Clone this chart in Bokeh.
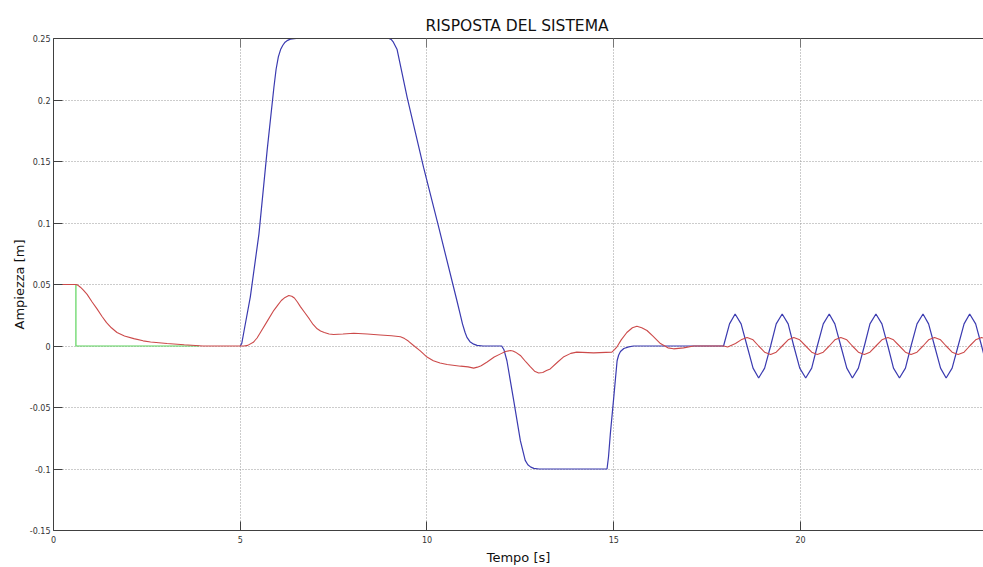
from bokeh.plotting import figure
from bokeh.models import Range1d, LinearAxis, FixedTicker, CustomJSTickFormatter
from bokeh.embed import file_html
from bokeh.resources import INLINE

# System output (blue): time [s] and amplitude [m]
out_t = [5.0, 5.04, 5.1, 5.27, 5.5, 5.72, 5.9, 5.96, 6.02, 6.08, 6.14, 6.2, 6.27, 6.34, 6.5,
         8.98, 9.04, 9.1, 9.2, 9.47, 9.91, 10.31, 10.8, 10.88, 10.95, 11.02, 11.07, 11.15,
         11.25, 11.34, 11.5,
         12.0, 12.06, 12.14, 12.32, 12.5, 12.63, 12.7, 12.78, 12.86, 13.0,
         14.82, 14.86, 14.91, 15.0, 15.09, 15.13, 15.18, 15.27, 15.4, 15.53,
         17.94, 18.10, 18.25, 18.41, 18.57, 18.73, 18.88, 19.04,
         19.20, 19.35, 19.51, 19.67, 19.82, 19.98, 20.14, 20.30,
         20.45, 20.61, 20.77, 20.92, 21.08, 21.24, 21.39, 21.55,
         21.71, 21.86, 22.02, 22.18, 22.34, 22.49, 22.65, 22.81,
         22.96, 23.12, 23.28, 23.43, 23.59, 23.75, 23.90, 24.06,
         24.22, 24.38, 24.53, 24.69, 24.85, 25.00]
out_y = [0.0, 0.002, 0.012, 0.04, 0.091, 0.159, 0.21, 0.225, 0.235, 0.241, 0.2445, 0.247, 0.2485, 0.2495, 0.25,
         0.25, 0.2492, 0.247, 0.241, 0.202, 0.145, 0.097, 0.037, 0.027, 0.018, 0.011, 0.007, 0.0035,
         0.0015, 0.0005, 0.0,
         0.0, -0.003, -0.012, -0.044, -0.077, -0.093, -0.0965, -0.0985, -0.0995, -0.1,
         -0.1, -0.09, -0.071, -0.042, -0.012, -0.0075, -0.0045, -0.002, -0.0007, 0.0,
         0.0, 0.018, 0.026, 0.018, 0.0, -0.018, -0.026, -0.018,
         0.0, 0.018, 0.026, 0.018, 0.0, -0.018, -0.026, -0.018,
         0.0, 0.018, 0.026, 0.018, 0.0, -0.018, -0.026, -0.018,
         0.0, 0.018, 0.026, 0.018, 0.0, -0.018, -0.026, -0.018,
         0.0, 0.018, 0.026, 0.018, 0.0, -0.018, -0.026, -0.018,
         0.0, 0.018, 0.026, 0.018, 0.0, -0.018]

# Reference step (green)
ref_t = [0.0, 0.6, 0.6, 3.9]
ref_y = [0.05, 0.05, 0.0, 0.0]

# Second response (red)
sec_t = [0.0, 0.6, 0.65, 0.72, 0.8, 0.9, 1.03, 1.17, 1.3, 1.42, 1.55, 1.7, 1.9, 2.15,
         2.4, 2.6, 3.04, 3.5, 4.0,
         5.1, 5.2, 5.35, 5.45, 5.54, 5.72, 5.9, 6.0, 6.1, 6.2, 6.3, 6.38, 6.45, 6.53,
         6.61, 6.73, 6.85, 6.95, 7.06, 7.15, 7.25, 7.38, 7.5, 7.75, 8.04, 8.4, 8.75,
         9.05, 9.29, 9.4, 9.5, 9.64, 9.82, 10.0, 10.17, 10.35, 10.54, 10.9, 11.1,
         11.25, 11.35, 11.45, 11.61, 11.8, 11.97, 12.1, 12.23, 12.3, 12.37, 12.5,
         12.65, 12.77, 12.88, 12.99, 13.1, 13.2, 13.3, 13.5, 13.65, 13.85, 14.01,
         14.46, 14.95, 15.02, 15.08, 15.2, 15.35, 15.5, 15.62, 15.75, 15.89, 16.05,
         16.25, 16.45, 16.6, 16.87, 17.14, 17.94, 18.05, 18.26, 18.41, 18.57, 18.73,
         18.88, 19.04, 19.20, 19.35, 19.51, 19.67, 19.82, 19.98, 20.14, 20.30,
         20.45, 20.61, 20.77, 20.92, 21.08, 21.24, 21.39, 21.55, 21.71, 21.86,
         22.02, 22.18, 22.34, 22.49, 22.65, 22.81, 22.96, 23.12, 23.28, 23.43,
         23.59, 23.75, 23.90, 24.06, 24.22, 24.38, 24.53, 24.69, 24.85, 25.00]
sec_y = [0.05, 0.05, 0.0495, 0.0478, 0.0455, 0.042, 0.036, 0.030, 0.024, 0.019, 0.0148, 0.011, 0.0082, 0.006,
         0.0042, 0.0033, 0.002, 0.001, 0.0,
         0.0, 0.0005, 0.003, 0.0065, 0.011, 0.02, 0.029, 0.033, 0.037, 0.0395, 0.041, 0.0405, 0.039, 0.0358,
         0.032, 0.027, 0.022, 0.0175, 0.014, 0.0122, 0.011, 0.0098, 0.0093, 0.0097, 0.0104, 0.0098, 0.009,
         0.0083, 0.0075, 0.006, 0.004, 0.0004, -0.004, -0.009, -0.012, -0.0138, -0.015, -0.0164, -0.017,
         -0.018, -0.0172, -0.016, -0.013, -0.009, -0.0064, -0.0045, -0.0037, -0.004, -0.005, -0.0077,
         -0.013, -0.017, -0.0205, -0.022, -0.0215, -0.020, -0.0186, -0.013, -0.009, -0.006, -0.005,
         -0.0056, -0.005, -0.003, -0.001, 0.005, 0.011, 0.0148, 0.016, 0.0148, 0.0126, 0.008,
         0.002, -0.0015, -0.0023, -0.0015, 0.0, 0.0, -0.0008, 0.002, 0.005, 0.007, 0.005,
         0.0, -0.005, -0.007, -0.005, 0.0, 0.005, 0.007, 0.005, 0.0, -0.005,
         -0.007, -0.005, 0.0, 0.005, 0.007, 0.005, 0.0, -0.005, -0.007, -0.005,
         0.0, 0.005, 0.007, 0.005, 0.0, -0.005, -0.007, -0.005, 0.0, 0.005,
         0.007, 0.005, 0.0, -0.005, -0.007, -0.005, 0.0, 0.005, 0.007, 0.005]

x_ticks = [0, 5, 10, 15, 20, 25]
y_ticks = [-0.15, -0.1, -0.05, 0, 0.05, 0.1, 0.15, 0.2, 0.25]

FONT = "DejaVu Sans"
AXIS_COLOR = "#404040"
LABEL_COLOR = "#333333"

p = figure(width=983, height=567, x_range=Range1d(0, 24.9), y_range=Range1d(-0.15, 0.25),
           output_backend="svg", toolbar_location=None,
           min_border_left=53, min_border_right=0, min_border_top=38, min_border_bottom=37)
p.outline_line_color = None
p.background_fill_color = "white"
p.border_fill_color = "white"

p.title.text = "RISPOSTA DEL SISTEMA"
p.title.text_font = FONT
p.title.text_font_size = "15.5px"
p.title.text_font_style = "normal"
p.title.text_color = "#111111"
p.title.align = "left"
p.title.offset = 372
p.title.standoff = 8

y_fmt = CustomJSTickFormatter(code="return tick.toFixed(2).replace(/0+$/, '').replace(/\\.$/, '');")

for ax in (p.xaxis[0], p.yaxis[0]):
    ax.major_tick_in = 9
    ax.major_tick_out = 0
    ax.minor_tick_in = 0
    ax.minor_tick_out = 0
    ax.axis_line_color = AXIS_COLOR
    ax.major_tick_line_color = AXIS_COLOR
    ax.major_label_text_font = FONT
    ax.major_label_text_font_size = "8px"
    ax.major_label_text_color = LABEL_COLOR
    ax.axis_label_text_font = FONT
    ax.axis_label_text_font_size = "13px"
    ax.axis_label_text_font_style = "normal"
    ax.axis_label_text_color = "#111111"

p.xaxis.ticker = FixedTicker(ticks=x_ticks)
p.yaxis.ticker = FixedTicker(ticks=y_ticks)
p.yaxis.formatter = y_fmt
p.xaxis.axis_label = "Tempo [s]"
p.yaxis.axis_label = "Ampiezza [m]"
p.xaxis.major_label_standoff = 5
p.yaxis.major_label_standoff = 3
p.xaxis.axis_label_standoff = 4
p.yaxis.axis_label_standoff = 0

# Box top edge with inward ticks
top_axis = LinearAxis(ticker=FixedTicker(ticks=x_ticks),
                      formatter=CustomJSTickFormatter(code="return '';"),
                      major_label_text_font_size="0px", major_label_standoff=0,
                      major_tick_in=9, major_tick_out=0, minor_tick_in=0, minor_tick_out=0,
                      axis_line_color=AXIS_COLOR, major_tick_line_color="#777777")
p.add_layout(top_axis, "above")

for g in (p.xgrid[0], p.ygrid[0]):
    g.grid_line_color = "#999999"
    g.grid_line_dash = "1 2"
    g.grid_line_width = 1
p.xgrid.ticker = FixedTicker(ticks=x_ticks)
p.ygrid.ticker = FixedTicker(ticks=y_ticks)

p.line(out_t, out_y, line_color="#3a3ab0", line_width=1.2)
p.line(ref_t, ref_y, line_color="#5cd45c", line_width=1.2)
p.line(sec_t, sec_y, line_color="#cc4a4a", line_width=1.1)

open("out.html", "w").write(file_html(p, INLINE))
